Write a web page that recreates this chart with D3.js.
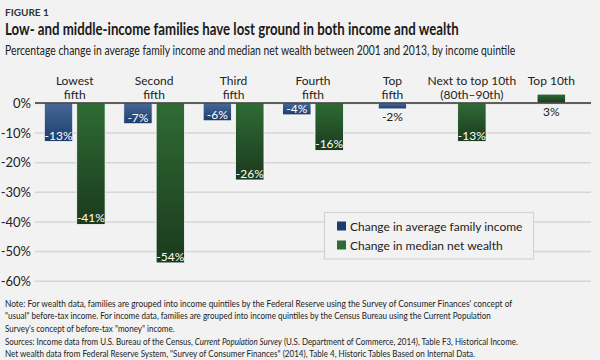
<!DOCTYPE html>
<html><head><meta charset="utf-8">
<script src="https://cdn.jsdelivr.net/npm/d3@7"></script>
<style>
html,body{margin:0;padding:0;background:#f2f2f2;}
svg{display:block;font-family:Lato,"Open Sans",sans-serif;}
</style></head>
<body>
<svg id="chart" width="600" height="360"></svg>
<script>
const categories = ["Lowest fifth","Second fifth","Third fifth","Fourth fifth","Top fifth","Next to top 10th (80th–90th)","Top 10th"];
const categoryLines = [["Lowest","fifth"],["Second","fifth"],["Third","fifth"],["Fourth","fifth"],["Top","fifth"],["Next to top 10th","(80th–90th)"],["Top 10th"]];
const incomeChange = [-13, -7, -6, -4, -2, null, null];
const wealthChange = [-41, -54, -26, -16, null, -13, 3];
const seriesNames = ["Change in average family income","Change in median net wealth"];
const yTicks = [0, -10, -20, -30, -40, -50, -60];

const svg = d3.select("#chart");
const W = 600, H = 360;
svg.append("rect").attr("width", W).attr("height", H).attr("fill", "#f2f2f2");

const defs = svg.append("defs");
function grad(id, top, bottom){
  const g = defs.append("linearGradient").attr("id", id).attr("x1",0).attr("y1",0).attr("x2",0).attr("y2",1);
  g.append("stop").attr("offset","0%").attr("stop-color",top);
  g.append("stop").attr("offset","100%").attr("stop-color",bottom);
}
grad("gBlue", "#46699a", "#1d3c6c");
grad("gGreen", "#2f6b35", "#1b3a1d");

// Fit a text to a target width by horizontal scaling
function fitText(sel, x, yPos, target) {
  sel.attr("x", 0).attr("y", 0);
  const w = sel.node().getComputedTextLength();
  const sx = target / w;
  sel.attr("transform", `translate(${x},${yPos}) scale(${sx},1)`);
  return sel;
}

// Titles
fitText(svg.append("text").attr("font-size",9.5).attr("font-weight",700).attr("fill","#333").text("FIGURE 1"), 5, 16, 44);
fitText(svg.append("text").attr("font-size",16.5).attr("font-weight",700).attr("fill","#1a1a1a")
  .text("Low- and middle-income families have lost ground in both income and wealth"), 5, 34.5, 454);
fitText(svg.append("text").attr("font-size",13).attr("fill","#222")
  .text("Percentage change in average family income and median net wealth between 2001 and 2013, by income quintile"), 5, 54.5, 511);

// Scales
const x0 = d3.scaleBand().domain(categories).range([35, 591]).padding(0);
const x1 = d3.scaleBand().domain(["income","wealth"]).range([-30.4, 30.4]).paddingInner(0.1235).paddingOuter(0);
const y = d3.scaleLinear().domain([0, -60]).range([103, 280.7]);

// Gridlines
const yAxis = d3.axisLeft(y).tickValues(yTicks).tickSize(-(591-35)).tickFormat(d => d + "%");
const ga = svg.append("g").attr("transform", "translate(35,0)").call(yAxis);
ga.select(".domain").remove();
ga.selectAll(".tick line").attr("stroke", "#d6d6d6").attr("stroke-width", 1.5);
ga.selectAll(".tick text").attr("x", -4).attr("dy", "0.35em").attr("font-size", 13)
  .attr("fill", "#222").attr("font-family", "Lato, sans-serif");

// Bars
const bw = x1.bandwidth();
const barData = [];
categories.forEach((c, i) => {
  const vals = [["income", incomeChange[i]], ["wealth", wealthChange[i]]].filter(v => v[1] !== null);
  const center = x0(c) + x0.bandwidth() / 2;
  vals.forEach(([k, v]) => {
    const xpos = vals.length === 2 ? center + x1(k) : center - bw / 2;
    barData.push({cat: c, key: k, value: v, x: xpos});
  });
});

const bars = svg.append("g");
bars.selectAll("rect").data(barData).join("rect")
  .attr("x", d => d.x)
  .attr("y", d => Math.min(y(d.value), y(0)))
  .attr("width", bw)
  .attr("height", d => Math.abs(y(d.value) - y(0)))
  .attr("fill", d => d.key === "income" ? "url(#gBlue)" : "url(#gGreen)")
  .attr("stroke", "#fafafa").attr("stroke-width", 0.8);

// Zero line
svg.append("line").attr("x1", 35).attr("x2", 591).attr("y1", y(0)).attr("y2", y(0))
  .attr("stroke", "#333").attr("stroke-width", 1.5);

// Value labels
const outside = d => d.value >= 0 || Math.abs(y(d.value) - y(0)) < 8;
svg.append("g").selectAll("text").data(barData).join("text")
  .attr("x", d => d.x + bw / 2)
  .attr("y", d => {
    if (d.value >= 0) return y(0) + 13;
    if (outside(d)) return y(d.value) + 12.5;
    return y(d.value) - 2;
  })
  .attr("text-anchor", "middle").attr("font-size", 12)
  .attr("fill", d => outside(d) ? "#222" : "#fff")
  .text(d => d.value + "%");

// Category labels
const cl = svg.append("g");
categories.forEach((c, i) => {
  const lines = categoryLines[i];
  const cx = x0(c) + x0.bandwidth() / 2;
  lines.forEach((ln, j) => {
    cl.append("text").attr("text-anchor", "middle").attr("font-size", 12).attr("fill", "#222")
      .attr("x", cx).attr("y", 85 + j * 14).text(ln);
  });
});

// Legend
const lg = svg.append("g");
lg.append("rect").attr("x", 324.5).attr("y", 212.5).attr("width", 209).attr("height", 46.5)
  .attr("fill", "#f2f2f2").attr("stroke", "#d4d4d4").attr("stroke-width", 1.2);
const legColors = ["#1f3b6e", "#2e6b38"];
seriesNames.forEach((s, i) => {
  const cy = 226 + i * 19;
  lg.append("rect").attr("x", 337).attr("y", cy - 4.5).attr("width", 9).attr("height", 9).attr("fill", legColors[i]);
  lg.append("text").attr("x", 350).attr("y", cy + 4.5).attr("font-size", 12).attr("fill", "#222").text(s);
});

// Notes
const notes = [
  {t: "Note: For wealth data, families are grouped into income quintiles by the Federal Reserve using the Survey of Consumer Finances' concept of", w: 508},
  {t: "\"usual\" before-tax income. For income data, families are grouped into income quintiles by the Census Bureau using the Current Population", w: 486.5},
  {t: "Survey's concept of before-tax \"money\" income.", w: 170},
  {parts: [["Sources: Income data from U.S. Bureau of the Census, ", false], ["Current Population Survey", true], [" (U.S. Department of Commerce, 2014), Table F3, Historical Income.", false]], w: 513},
  {t: "Net wealth data from Federal Reserve System, \"Survey of Consumer Finances\" (2014), Table 4, Historic Tables Based on Internal Data.", w: 471}
];
const ng = svg.append("g");
notes.forEach((n, i) => {
  const t = ng.append("text").attr("font-size", 10).attr("fill", "#222");
  if (n.parts) {
    n.parts.forEach(([s, it]) => t.append("tspan").attr("font-style", it ? "italic" : "normal").text(s));
  } else t.text(n.t);
  fitText(t, 5, 306.5 + i * 12.7, n.w);
});
</script>
</body></html>
